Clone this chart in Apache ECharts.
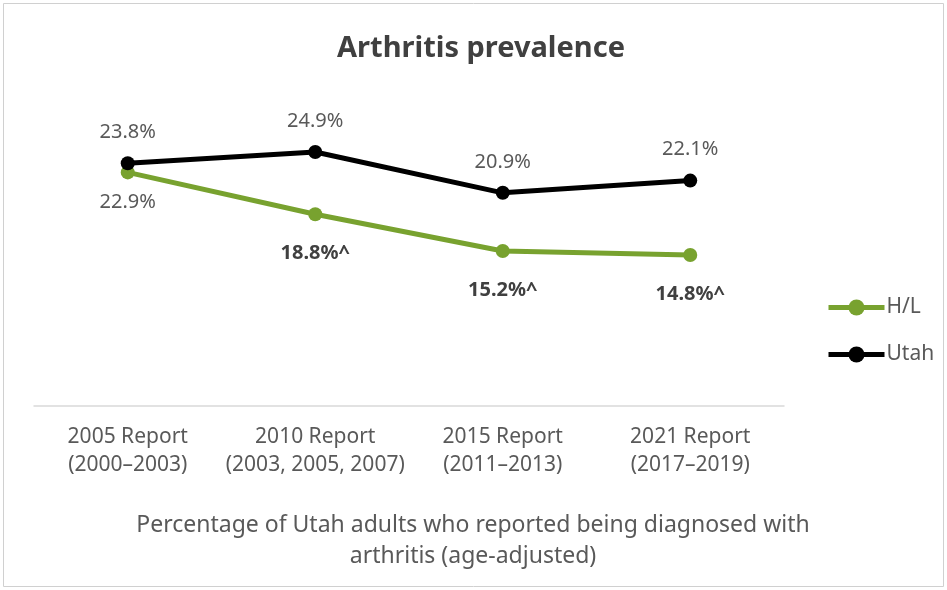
<!DOCTYPE html>
<html>
<head>
<meta charset="utf-8">
<script src="https://cdn.jsdelivr.net/npm/echarts@6/dist/echarts.min.js"></script>
<style>
html,body{margin:0;padding:0;background:#fff;}
#chart{width:947px;height:590px;}
</style>
</head>
<body>
<div id="chart"></div>
<script>
const categories = ['2005 Report\n(2000–2003)', '2010 Report\n(2003, 2005, 2007)', '2015 Report\n(2011–2013)', '2021 Report\n(2017–2019)'];
const hlValues = [22.9, 18.8, 15.2, 14.8];
const hlSignificant = [false, true, true, true];
const utahValues = [23.8, 24.9, 20.9, 22.1];
const seriesNames = ['H/L', 'Utah'];
const chartTitle = 'Arthritis prevalence';
const axisTitle = 'Percentage of Utah adults who reported being diagnosed with\narthritis (age-adjusted)';

const FONT = '"Noto Sans", "Open Sans", sans-serif';
const chart = echarts.init(document.getElementById('chart'));

const hlData = hlValues.map((v, i) => ({
  value: v,
  label: {
    show: true,
    position: 'bottom',
    distance: hlSignificant[i] ? 22 : 13,
    formatter: v.toFixed(1) + '%' + (hlSignificant[i] ? '^' : ''),
    fontWeight: hlSignificant[i] ? 'bold' : 'normal',
    color: hlSignificant[i] ? '#404040' : '#595959'
  }
}));
const utahData = utahValues.map(v => ({
  value: v,
  label: { show: true, position: 'top', distance: 14, formatter: v.toFixed(1) + '%' }
}));

chart.setOption({
  backgroundColor: '#ffffff',
  animation: false,
  graphic: [{
    type: 'rect', shape: { x: 3.5, y: 3.5, width: 940, height: 583 },
    style: { fill: 'none', stroke: '#d0d0d0', lineWidth: 1 }, silent: true
  }],
  title: [{
    text: chartTitle, left: 476, top: 29, textAlign: 'center',
    textStyle: { fontFamily: FONT, fontSize: 29, fontWeight: 'bold', color: '#404040' }
  }, {
    text: axisTitle, left: 468, top: 505, textAlign: 'center',
    textStyle: { fontFamily: FONT, fontSize: 23, fontWeight: 'normal', color: '#595959', lineHeight: 31 }
  }],
  legend: {
    data: seriesNames,
    orient: 'vertical',
    left: 821, top: 292,
    itemWidth: 56, itemHeight: 20, itemGap: 26,
    lineStyle: { width: 5 },
    textStyle: { fontFamily: FONT, fontSize: 21, color: '#595959', padding: [0, 0, 0, -3] }
  },
  grid: { left: 34, right: 163, top: 100, bottom: 184, containLabel: false },
  xAxis: {
    type: 'category',
    data: categories,
    boundaryGap: true,
    axisLine: { lineStyle: { color: '#d9d9d9', width: 1.5 } },
    axisTick: { show: false },
    axisLabel: { fontFamily: FONT, fontSize: 21, color: '#595959', lineHeight: 28, margin: 17, interval: 0 }
  },
  yAxis: { type: 'value', min: 0, max: 30, show: false, splitLine: { show: false } },
  series: [{
    name: 'H/L', type: 'line', data: hlData,
    color: '#78a22f',
    lineStyle: { width: 5, color: '#78a22f' },
    symbol: 'circle', symbolSize: 14,
    itemStyle: { color: '#78a22f' },
    label: { fontFamily: FONT, fontSize: 20, color: '#595959' }
  }, {
    name: 'Utah', type: 'line', data: utahData,
    color: '#000000',
    lineStyle: { width: 5, color: '#000000' },
    symbol: 'circle', symbolSize: 14,
    itemStyle: { color: '#000000' },
    label: { fontFamily: FONT, fontSize: 20, color: '#595959' }
  }]
});
</script>
</body>
</html>
